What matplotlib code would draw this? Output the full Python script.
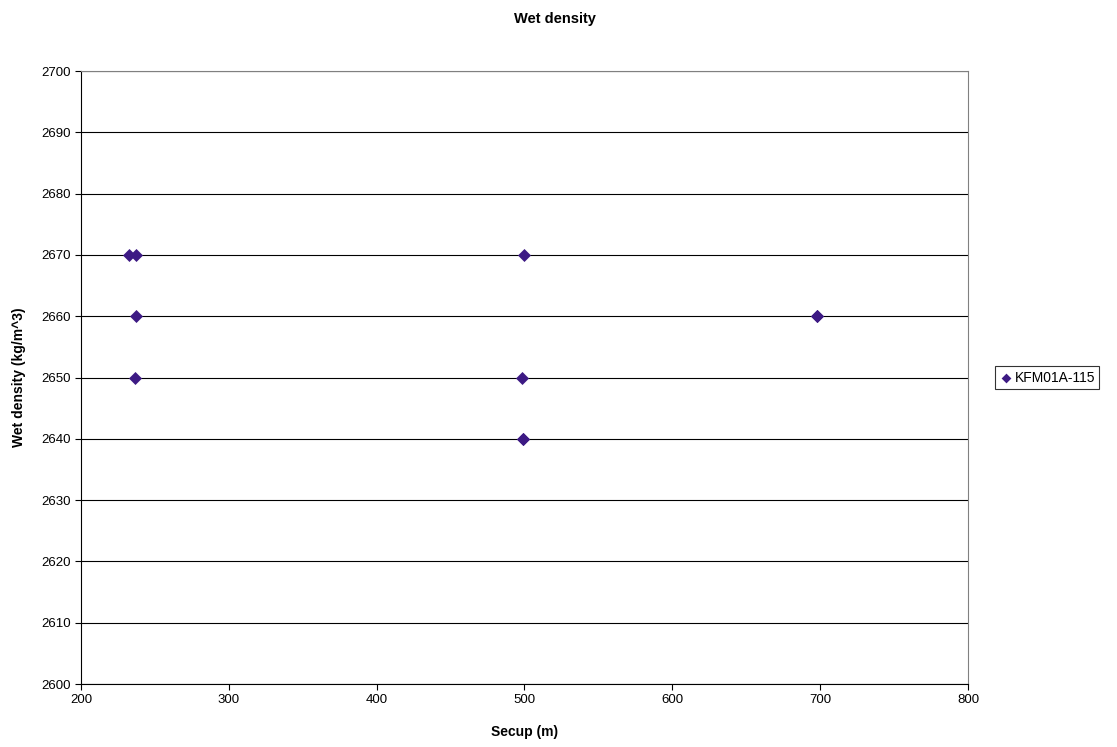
import matplotlib
matplotlib.use("Agg")
import matplotlib.pyplot as plt

plt.rcParams['font.family'] = ['Liberation Sans', 'DejaVu Sans']

secup = [232.7, 237.2, 237.0, 236.5, 499.5, 498.6, 498.8, 499.0, 697.7, 698.0]
density = [2670, 2670, 2660, 2650, 2670, 2650, 2640, 2640, 2660, 2660]
series_name = "KFM01A-115"
title = "Wet density"
xlabel = "Secup (m)"
ylabel = "Wet density (kg/m^3)"

fig = plt.figure(figsize=(11.17, 7.47), dpi=100)
ax = fig.add_axes([0.0725, 0.0843, 0.7941, 0.8206])
ax.set_xlim(200, 800)
ax.set_ylim(2600, 2700)
ax.set_xticks(range(200, 801, 100))
ax.set_yticks(range(2600, 2701, 10))
ax.yaxis.grid(True, color='black', linewidth=0.8)
ax.set_axisbelow(True)
for s in ax.spines.values():
    s.set_color('#808080')
    s.set_linewidth(0.8)
ax.spines['left'].set_color('black')
ax.spines['bottom'].set_color('black')
ax.tick_params(labelsize=9.5, length=4, direction='out', color='black')
ax.scatter(secup, density, marker='D', s=44, color='#3D1A84', zorder=3,
           linewidths=0, label=series_name)
ax.set_xlabel(xlabel, fontsize=10, fontweight='bold', labelpad=13)
ax.set_ylabel(ylabel, fontsize=10, fontweight='bold', labelpad=11)
fig.suptitle(title, fontsize=10.5, fontweight='bold', x=0.497, y=0.984)
leg = ax.legend(loc='center left', bbox_to_anchor=(1.023, 0.5), frameon=True,
                fancybox=False, edgecolor='black', fontsize=10, handletextpad=0.1,
                markerscale=0.75, borderpad=0.3, handlelength=1.0)
leg.get_frame().set_linewidth(0.8)
fig.savefig("out.png", dpi=100)
